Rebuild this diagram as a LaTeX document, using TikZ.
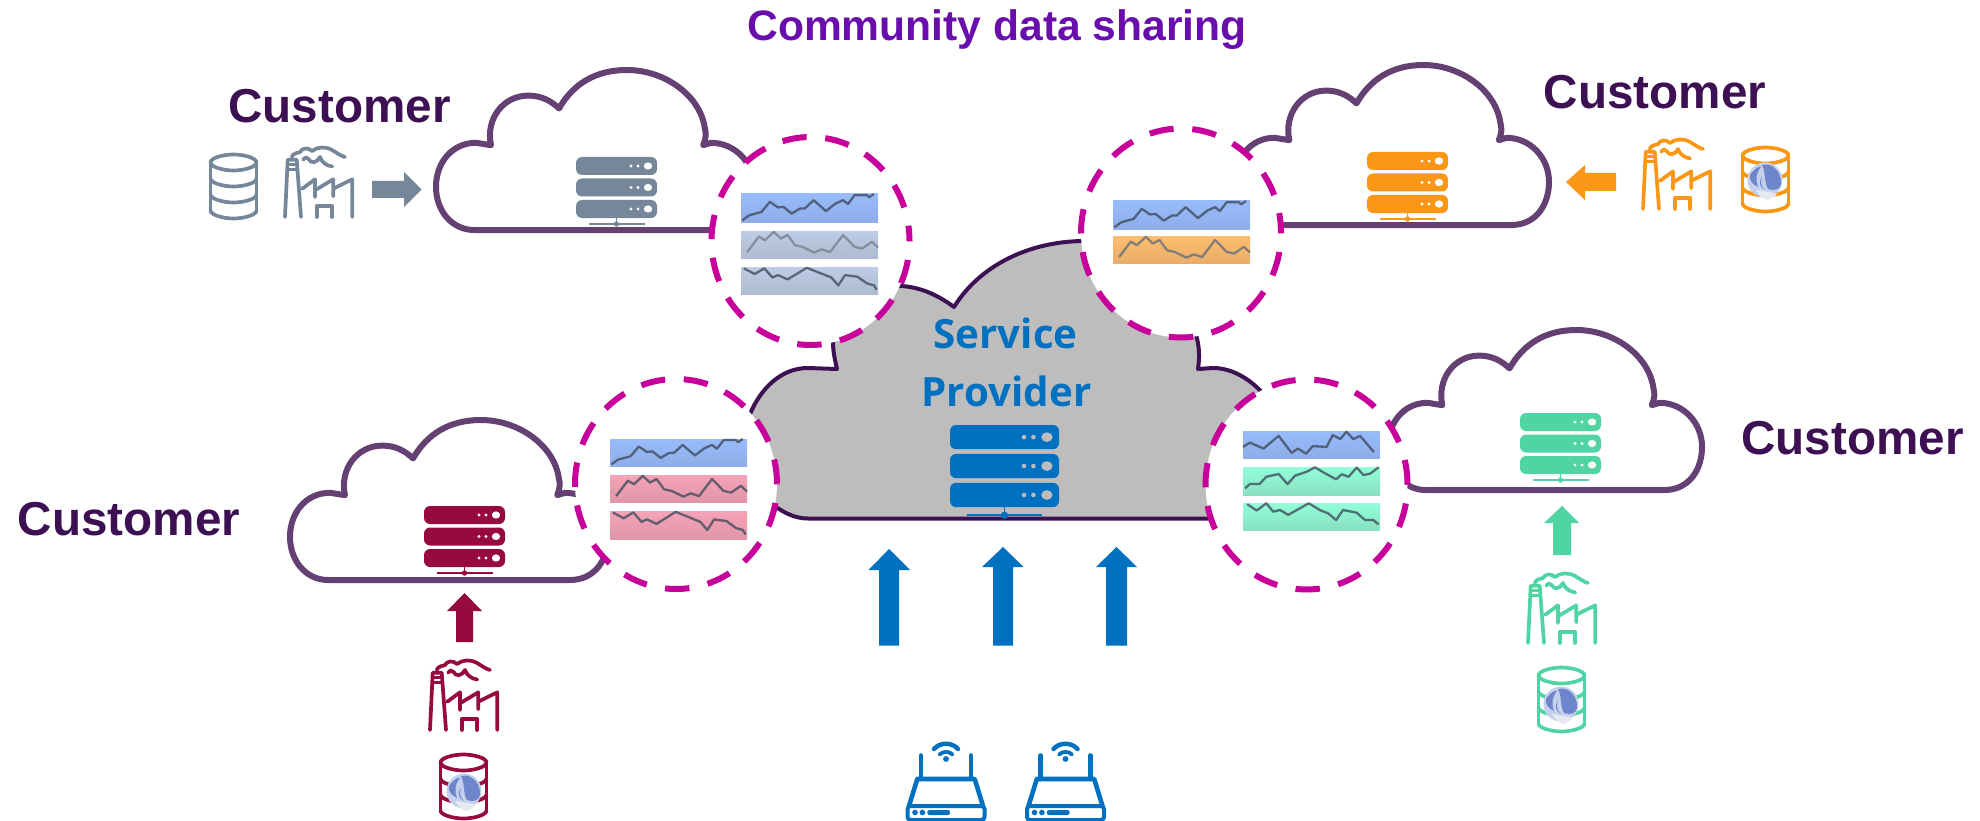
\documentclass[tikz,border=0pt]{standalone}
\usepackage{fontspec}
\setmainfont{Liberation Sans}
\newfontfamily\spfont{Open Sans}
\definecolor{cGray}{HTML}{76879A}
\definecolor{cOrange}{HTML}{FB9716}
\definecolor{cMaroon}{HTML}{970A3F}
\definecolor{cGreen}{HTML}{50D4A3}
\definecolor{cBlue}{HTML}{0070C0}
\definecolor{cPurple}{HTML}{3C1053}
\definecolor{cCloud}{HTML}{644073}
\definecolor{cTitle}{HTML}{6A0DAD}
\definecolor{cDash}{HTML}{C8009B}
\definecolor{cSP}{HTML}{BDBDBD}
\definecolor{cLine}{HTML}{3F4A5C}
\definecolor{sBlue}{HTML}{98BBFC}
\definecolor{sBlueD}{HTML}{8EAEE8}
\definecolor{sGb}{HTML}{BDCDE6}
\definecolor{sGbD}{HTML}{AEBBD0}
\definecolor{sOr}{HTML}{FFBE6E}
\definecolor{sOrD}{HTML}{E8AD6A}
\definecolor{sPk}{HTML}{F6A3B7}
\definecolor{sPkD}{HTML}{DF96A8}
\definecolor{sGr}{HTML}{92FFD8}
\definecolor{sGrD}{HTML}{88E0C0}
\definecolor{lgBack}{HTML}{C4D0EC}
\definecolor{lgBlue}{HTML}{6C85CB}
\definecolor{lgTuft}{HTML}{E6E9EF}
\tikzset{
  cloudline/.style={draw=cCloud,line width=6pt,line join=round,fill=white},
  lens/.style={draw=cDash,fill=white,line width=6pt,dash pattern=on 24.4pt off 18.7pt,dash phase=24pt},
  custlabel/.style={font=\fontsize{47.6}{50}\selectfont\bfseries,text=cPurple,anchor=base,inner sep=0pt},
  splabel/.style={font=\fontsize{40.3}{42}\spfont\bfseries,text=cBlue,anchor=base,inner sep=0pt},
  iconline/.style={line width=3.7pt,line cap=round,line join=round},
}
\newcommand{\custcloud}[3]{% x0 y0 w
  \begin{scope}[shift={(#1,#2)},x=#3pt,y=-160pt]
  \draw[cloudline] (.12,1) -- (.88,1) .. controls (.96,1) and (1,.87) .. (1,.73)
    .. controls (1,.58) and (.94,.455) .. (.865,.455) -- (.84,.47)
    .. controls (.85,.42) and (.85,.40) .. (.845,.36)
    .. controls (.83,.16) and (.72,0) .. (.6,0)
    .. controls (.5,0) and (.43,.09) .. (.387,.24)
    .. controls (.36,.19) and (.33,.16) .. (.29,.16)
    .. controls (.21,.16) and (.155,.31) .. (.173,.47) -- (.126,.455)
    .. controls (.05,.455) and (0,.58) .. (0,.73)
    .. controls (0,.88) and (.05,1) .. (.12,1) -- cycle;
  \end{scope}}
\newcommand{\server}[5]{% cx top scale colour dotcolour
  \begin{scope}[shift={(#1,#2)},scale=#3]
  \foreach \r in {0,21.5,43}{
    \fill[#4,rounded corners=6pt] (-40.5,\r) rectangle (40.5,\r+18);
    \fill[#5] (31.5,\r+9) ellipse [x radius=4.2,y radius=3.6];
    \fill[#5] (21.5,\r+9) circle [radius=1.7];
    \fill[#5] (14.5,\r+9) circle [radius=1.7];
  }
  \draw[#4,line width=1.8pt] (0,61) -- (0,67);
  \draw[#4,line width=1.8pt] (-28,67) -- (28,67);
  \fill[#4] (0,67) circle [radius=2.7];
  \end{scope}}
\newcommand{\factory}[3]{% x y colour
  \begin{scope}[shift={(#1,#2)},iconline,#3]
  \draw (1,70) -- (3.7,12.7) -- (12.7,12.7) -- (17,70);
  \draw[line width=2.5pt] (4,17.5) -- (11.5,17.5) (4,22.5) -- (12,22.5);
  \draw (18.3,41.7) -- (31,32.3) -- (31,50) (31,43.3) -- (49.3,32.3) -- (49.3,49.3)
        (49.3,41.7) -- (68.3,32.3) -- (68.3,70);
  \draw (32.7,70) -- (32.7,59) -- (48.3,59) -- (48.3,70);
  \draw (7.7,10) .. controls (9,6) and (14,6) .. (16,5) .. controls (18,1) and (24,0) .. (28,4)
        .. controls (33,0) and (41,-1) .. (48,3) .. controls (53,6) and (57,9) .. (61,10);
  \draw (19.3,12.7) .. controls (21,10) and (23,10) .. (24.5,12) .. controls (27,17) and (33,16) .. (36,10)
        .. controls (37,14) and (42,19) .. (48.3,19.5);
  \end{scope}}
\newcommand{\dbcyl}[3]{% x y colour
  \begin{scope}[shift={(#1,#2)},iconline,#3]
  \draw (1.5,8.5) .. controls (1.5,4) and (14,.5) .. (24.5,.5) .. controls (35,.5) and (47.5,4) .. (47.5,8.5);
  \foreach \v in {8.5,24.5,40.5,56.5}{
    \draw (1.5,\v) .. controls (1.5,\v+4.4) and (14,\v+8) .. (24.5,\v+8) .. controls (35,\v+8) and (47.5,\v+4.4) .. (47.5,\v);
  }
  \draw (1.5,8.5) -- (1.5,56.5) (47.5,8.5) -- (47.5,56.5);
  \end{scope}}
\newcommand{\dblogo}[2]{% cx cy
  \begin{scope}[shift={(#1,#2)}]
  \fill[lgBack] (0,-1) circle [radius=17.5];
  \fill[lgTuft] (-9,9) .. controls (-6,14) and (-2,18) .. (2,19) .. controls (6,18) and (9,16) .. (12,13)
     .. controls (6,11) and (-3,10) .. (-9,9) -- cycle;
  \fill[lgBlue] (-3,-16) .. controls (8,-19) and (17,-8) .. (16,3)
     .. controls (15,9) and (9,10) .. (3,8) .. controls (-1,2) and (1,-9) .. (-3,-16) -- cycle;
  \fill[lgBlue] (-15,-6) .. controls (-10,-13) and (-6,-15) .. (-4,-14)
     .. controls (-9,-8) and (-10,-2) .. (-7,6) .. controls (-13,3) and (-16,-1) .. (-15,-6) -- cycle;
  \fill[lgBlue] (-3,-4) .. controls (-5,0) and (-4,6) .. (0,9) .. controls (-5,7) and (-7,0) .. (-3,-4) -- cycle;
  \end{scope}}
\newcommand{\strip}[7]{% x y h top bottom line chart
  \shade[top color=#4,bottom color=#5,draw=none] (#1,#2) rectangle (#1+137,#2+#3);
  \begin{scope}[shift={(#1,#2)},x=137pt,y=-#3pt]
  \draw[#6,line width=2.3pt,line join=round,opacity=.78] #7;
  \end{scope}}
\newcommand{\router}[1]{% cx
  \begin{scope}[shift={(#1,0)},cBlue,line width=4.6pt,line cap=round,line join=round]
  \draw[line width=4.5pt] (-12,749) .. controls (-6,742) and (6,742) .. (12,749);
  \draw[line width=3.8pt] (-6.5,754.5) .. controls (-3,751) and (3,751) .. (6.5,754.5);
  \fill (0,759) circle [radius=2.9];
  \draw (-25,755.5) -- (-25,779) (25,755.5) -- (25,779);
  \draw (-28.7,779) -- (28.7,779) -- (37,806) (-28.7,779) -- (-37,806);
  \draw[rounded corners=3pt,line width=4pt] (-38.5,806) rectangle (38.5,820);
  \fill (-31,812.5) circle [radius=2.8];
  \fill (-23.6,812.5) circle [radius=2.8];
  \fill[rounded corners=2pt] (-18.6,810) rectangle (4,815);
  \end{scope}}
\def\chartA{(.01,.94)--(.06,.76)--(.15,.64)--(.21,.28)--(.27,.48)--(.31,.46)--(.37,.70)--(.43,.52)--(.465,.52)--(.53,.22)--(.62,.61)--(.69,.34)--(.745,.22)--(.78,.36)--(.83,.04)--(.92,.04)--(.935,.12)--(.97,0)}
\def\chartB{(.045,.78)--(.13,.21)--(.175,.34)--(.24,.03)--(.29,.28)--(.34,.15)--(.395,.53)--(.45,.59)--(.535,.80)--(.59,.68)--(.65,.78)--(.745,.15)--(.83,.59)--(.885,.65)--(.955,.40)--(1,.61)}
\def\chartC{(.02,.05)--(.10,.26)--(.17,.05)--(.23,.39)--(.27,.30)--(.34,.46)--(.48,.03)--(.57,.21)--(.66,.39)--(.71,.68)--(.76,.30)--(.85,.36)--(.92,.61)--(.97,.68)--(.99,.84)}
\def\chartD{(0,.59)--(.05,.43)--(.15,.65)--(.26,.18)--(.355,.81)--(.40,.65)--(.46,.84)--(.51,.56)--(.61,.59)--(.655,.15)--(.71,.30)--(.755,.03)--(.805,.30)--(.855,.18)--(.955,.78)}
\def\chartE{(.015,.76)--(.05,.61)--(.12,.61)--(.17,.35)--(.26,.25)--(.325,.61)--(.38,.31)--(.465,.17)--(.525,.01)--(.60,.23)--(.68,.44)--(.72,.26)--(.77,.35)--(.83,.02)--(.88,.29)--(.93,.23)--(.99,.01)}
\def\chartF{(.03,.04)--(.10,.28)--(.17,.01)--(.22,.32)--(.27,.26)--(.33,.44)--(.48,.01)--(.56,.26)--(.62,.38)--(.68,.63)--(.73,.26)--(.83,.36)--(.89,.63)--(.95,.63)--(.99,.79)}
\begin{document}
\begin{tikzpicture}[x=1pt,y=-1pt]
\useasboundingbox (0,0) rectangle (1980,821);
% customer clouds
\custcloud{436}{70}{318}
\custcloud{1235}{65}{314}
\custcloud{1388}{330}{314}
\custcloud{290}{420}{318}
% service provider cloud
\draw[fill=cSP,draw=cPurple,line width=4pt,line join=round]
  (808,518.5) -- (1220,518.5) .. controls (1260,518) and (1285,480) .. (1285,445)
  .. controls (1285,410) and (1250,368) .. (1213,368) -- (1198,369)
  .. controls (1200,355) and (1199,345) .. (1196,335)
  .. controls (1190,280) and (1150,241) .. (1085,241)
  .. controls (1030,241) and (980,265) .. (954,307)
  .. controls (935,293) and (918,287) .. (901,286)
  .. controls (860,286) and (830,310) .. (833,342)
  .. controls (833,352) and (835,360) .. (837,369) -- (808,368)
  .. controls (780,368) and (760,390) .. (750,414)
  .. controls (735,440) and (735,490) .. (776,507)
  .. controls (785,513) and (795,518.5) .. (808,518.5) -- cycle;
% lenses
\draw[lens] (810.5,241) ellipse [x radius=99,y radius=104];
\draw[lens] (1181,233) ellipse [x radius=100,y radius=104.5];
\draw[lens] (676,484) ellipse [x radius=101,y radius=105];
\draw[lens] (1306.5,484.5) ellipse [x radius=101,y radius=105];
% strips
\strip{741}{194}{28}{sBlue}{sBlueD}{cLine}{\chartA}
\strip{741}{231}{27}{sGb}{sGbD}{cLine!70!white}{\chartB}
\strip{741}{267}{27}{sGb}{sGbD}{cLine}{\chartC}
\strip{1113}{201}{28}{sBlue}{sBlueD}{cLine}{\chartA}
\strip{1113}{236}{27}{sOr}{sOrD}{cLine!80!white}{\chartB}
\strip{610}{439}{27}{sBlue}{sBlueD}{cLine}{\chartA}
\strip{610}{475}{27}{sPk}{sPkD}{cLine}{\chartB}
\strip{610}{511}{28}{sPk}{sPkD}{cLine}{\chartC}
\strip{1243}{431}{27}{sBlue}{sBlueD}{cLine}{\chartD}
\strip{1243}{467}{28}{sGr}{sGrD}{cLine}{\chartE}
\strip{1243}{503}{27}{sGr}{sGrD}{cLine}{\chartF}
% servers
\server{616.5}{157}{1}{cGray}{white}
\server{1407.5}{152}{1}{cOrange}{white}
\server{464.5}{506}{1}{cMaroon}{white}
\server{1560.5}{413}{1}{cGreen}{white}
\server{1004.5}{425}{1.346}{cBlue}{cSP}
% block arrows
\fill[cGray] (372,181) -- (404,181) -- (404,172) -- (421.6,189.5) -- (404,207) -- (404,198) -- (372,198) -- cycle;
\fill[cOrange] (1616,173) -- (1585,173) -- (1585,165) -- (1566,182) -- (1585,200) -- (1585,191) -- (1616,191) -- cycle;
\fill[cMaroon] (456,642) -- (456,611) -- (447,611) -- (464.5,593) -- (482,611) -- (473,611) -- (473,642) -- cycle;
\fill[cGreen] (1553,555) -- (1553,523) -- (1544,523) -- (1562,506) -- (1579,523) -- (1571,523) -- (1571,555) -- cycle;
\fill[cBlue] (879,645.5) -- (879,570) -- (868.5,570) -- (889,549) -- (910,570) -- (899,570) -- (899,645.5) -- cycle;
\fill[cBlue] (993,645.5) -- (993,567) -- (982,567) -- (1003,547) -- (1023.6,567) -- (1013,567) -- (1013,645.5) -- cycle;
\fill[cBlue] (1106,645.5) -- (1106,567) -- (1096,567) -- (1116.5,547) -- (1137,567) -- (1127,567) -- (1127,645.5) -- cycle;
% factories and databases
\factory{284}{147}{cGray}
\factory{1642}{139}{cOrange}
\factory{429}{660}{cMaroon}
\factory{1527}{573}{cGreen}
\dbcyl{209}{154}{cGray}
\dbcyl{1741}{147}{cOrange}
\dbcyl{439}{754}{cMaroon}
\dbcyl{1537}{667}{cGreen}
\dblogo{1765}{181}
\dblogo{464}{792}
\dblogo{1561}{705}
% routers
\router{946}
\router{1065.5}
% text
\node[anchor=base,inner sep=0pt,font=\fontsize{42.6}{45}\selectfont\bfseries,text=cTitle] (title) at (997,41) {Community data sharing};
\node[custlabel] (custTL) at (339.5,122.7) {Customer};
\node[custlabel] (custTR) at (1655,108.5) {Customer};
\node[custlabel] (custR) at (1852.5,454.5) {Customer};
\node[custlabel] (custL) at (129,535.5) {Customer};
\node[splabel] (spA) at (1005.5,348) {Service};
\node[splabel] (spB) at (1006.5,406) {Provider};
\end{tikzpicture}
\end{document}
